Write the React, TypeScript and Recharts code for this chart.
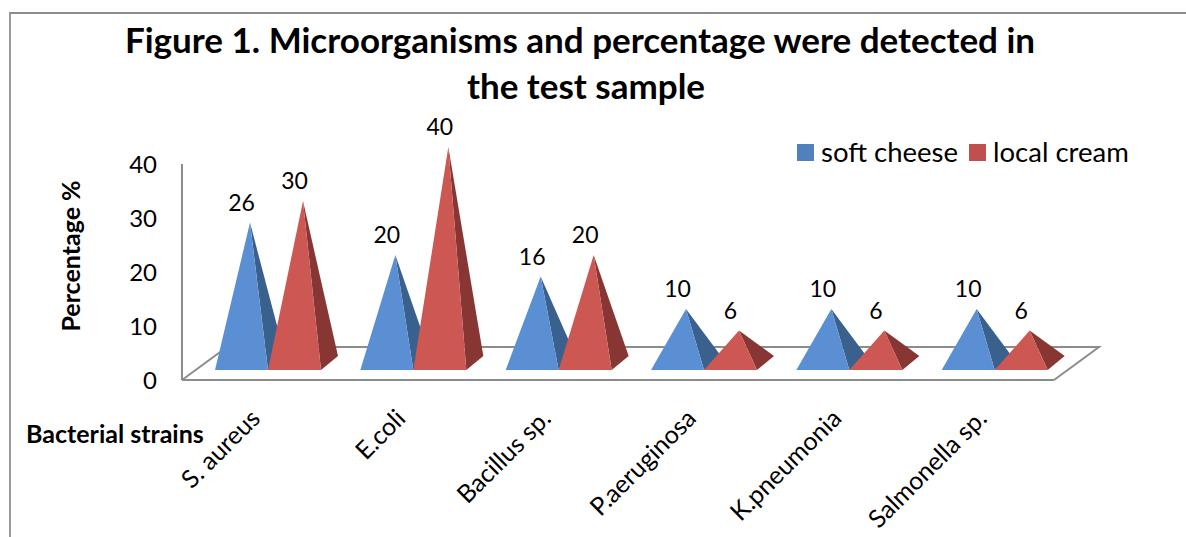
import { Bar, BarChart, LabelList, Legend, XAxis, YAxis, usePlotArea } from "recharts";

const strains = ["S. aureus", "E.coli", "Bacillus sp.", "P.aeruginosa", "K.pneumonia", "Salmonella sp."];
const softCheese = [26, 20, 16, 10, 10, 10];
const localCream = [30, 40, 20, 6, 6, 6];
const yTicks = [0, 10, 20, 30, 40];
const titleLines = ["Figure 1. Microorganisms and percentage were detected in", "the test sample"];

const data = strains.map((name, i) => ({ name, soft: softCheese[i], cream: localCream[i] }));

const FONT = "Lato, 'Open Sans', sans-serif";
const GRID = "#8c8c8c";

// pseudo 3D offsets
const shiftX = 13;
const frontLift = 10;
const depthX = 17;
const depthY = 14;

function Pyramid(props: any) {
  const { x, y, width, height, front, side } = props;
  const left = x + shiftX;
  const right = left + width;
  const base = y + height - frontLift;
  const apexX = left + width / 2 + depthX / 2;
  const apexY = y - 17;
  return (
    <g>
      <polygon points={`${right},${base} ${right + depthX},${base - depthY} ${apexX},${apexY}`} fill={side} />
      <polygon points={`${left},${base} ${right},${base} ${apexX},${apexY}`} fill={front} />
    </g>
  );
}

function ValueLabel(props: any) {
  const { x, y, width, value } = props;
  return (
    <text x={x + shiftX + width / 2} y={y - 29} textAnchor="middle" fontFamily={FONT} fontSize={23} fill="#000">
      {value}
    </text>
  );
}

function Floor() {
  const plot = usePlotArea();
  if (!plot) return null;
  const { x, y, width, height } = plot;
  const bottom = y + height;
  return (
    <polyline
      points={`${x},${bottom} ${x + 45},${bottom - 33} ${x + width + 45},${bottom - 33} ${x + width},${bottom}`}
      fill="none"
      stroke={GRID}
      strokeWidth={2}
    />
  );
}

function StrainTick(props: any) {
  const { x, y, payload } = props;
  return (
    <text
      transform={`translate(${x + 7},${y + 32}) rotate(-45)`}
      textAnchor="end"
      fontFamily={FONT}
      fontSize={25}
      fill="#000"
    >
      {payload.value}
    </text>
  );
}

function LegendRow() {
  const items = [
    { label: "soft cheese", color: "#4f81bd", x: 797, textX: 821 },
    { label: "local cream", color: "#c0504d", x: 969, textX: 993 },
  ];
  return (
    <div style={{ position: "relative", width: 1186, height: 40, fontFamily: FONT, fontSize: 27.5, lineHeight: "34px", color: "#000" }}>
      {items.map((d) => (
        <div key={d.label}>
          <div style={{ position: "absolute", left: d.x, top: 4, width: 17, height: 17, background: d.color }} />
          <div style={{ position: "absolute", left: d.textX, top: -5, whiteSpace: "nowrap" }}>{d.label}</div>
        </div>
      ))}
    </div>
  );
}

export default function App() {
  return (
    <div style={{ position: "fixed", left: 0, top: 0, width: 1186, height: 537, background: "#fff", overflow: "hidden" }}>
      <div style={{ position: "absolute", left: 9, top: 12, right: 0, bottom: 0, borderLeft: "2px solid #9a9a9a", borderTop: "2px solid #8c8c8c" }} />
      <BarChart
        width={1186}
        height={537}
        data={data}
        margin={{ top: 164, right: 132, bottom: 17, left: 100 }}
        barCategoryGap={20}
        barGap={0}
      >
        <Floor />
        <XAxis
          dataKey="name"
          height={100}
          interval={0}
          tickLine={false}
          axisLine={{ stroke: GRID, strokeWidth: 2 }}
          tick={<StrainTick />}
        />
        <YAxis
          width={82}
          domain={[0, 40]}
          ticks={yTicks}
          tickLine={false}
          tickSize={0}
          tickMargin={25}
          axisLine={{ stroke: GRID, strokeWidth: 2 }}
          tick={{ fontFamily: FONT, fontSize: 24, fill: "#000" }}
        />
        <Legend content={<LegendRow />} wrapperStyle={{ position: "absolute", left: 0, top: 140, width: 1186 }} />
        <Bar dataKey="soft" name="soft cheese" isAnimationActive={false} shape={<Pyramid front="#5b8fd3" side="#3a618e" />}>
          <LabelList dataKey="soft" content={<ValueLabel />} />
        </Bar>
        <Bar dataKey="cream" name="local cream" isAnimationActive={false} shape={<Pyramid front="#cd5753" side="#873634" />}>
          <LabelList dataKey="cream" content={<ValueLabel />} />
        </Bar>
        <text x={580} y={53} textAnchor="middle" fontFamily={FONT} fontSize={35} fontWeight={700} fill="#000">
          {titleLines[0]}
        </text>
        <text x={586} y={99} textAnchor="middle" fontFamily={FONT} fontSize={35} fontWeight={700} fill="#000">
          {titleLines[1]}
        </text>
        <text transform="translate(80,256) rotate(-90)" textAnchor="middle" fontFamily={FONT} fontSize={25} fontWeight={700} fill="#000">
          Percentage %
        </text>
        <text x={26} y={443} fontFamily={FONT} fontSize={25} fontWeight={700} fill="#000">
          Bacterial strains
        </text>
      </BarChart>
    </div>
  );
}
